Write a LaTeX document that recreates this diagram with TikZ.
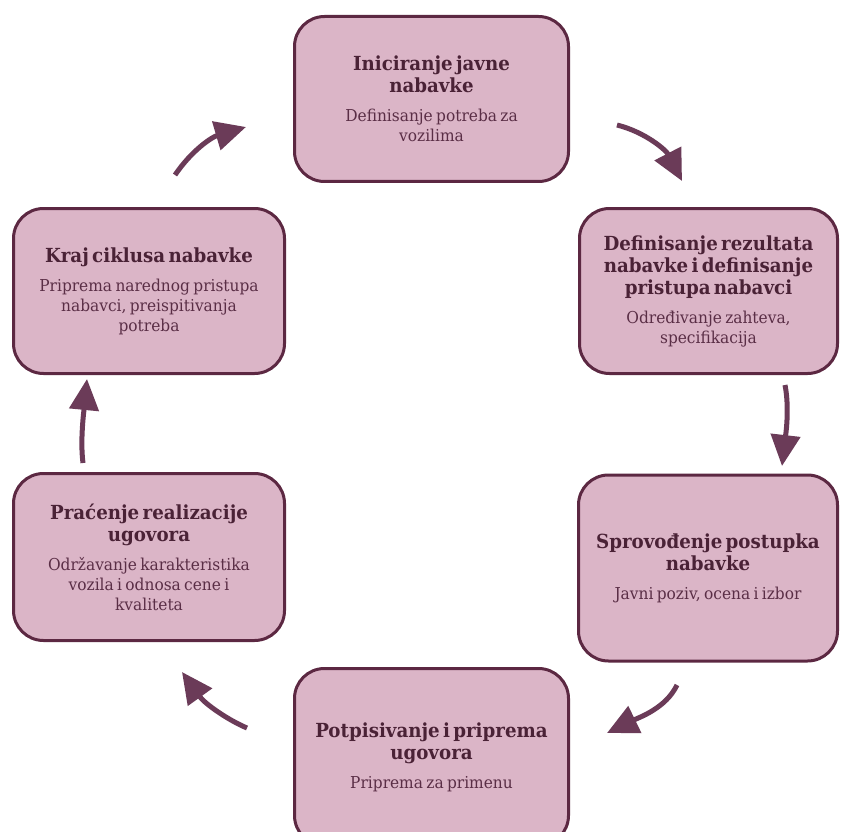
\documentclass[tikz,border=0pt]{standalone}
\usepackage{fontspec}
\setmainfont{DejaVu Serif}[FakeStretch=0.94]
\usetikzlibrary{arrows.meta}

\definecolor{boxfill}{HTML}{DBB5C7}
\definecolor{boxline}{HTML}{5C2842}
\definecolor{ink}{HTML}{4A2236}
\definecolor{subink}{HTML}{5A2E46}
\definecolor{arrowc}{HTML}{6B3B58}

\newcommand{\ttlfont}{\fontsize{19.4}{22}\selectfont\bfseries}
\newcommand{\subfont}{\fontsize{16.4}{20}\selectfont\mdseries\color{subink}}
\newcommand{\stagetext}[2]{{\ttlfont #1\par}\vspace{9pt}{\subfont #2\par}}

\tikzset{
  stage/.style={draw=boxline, line width=3pt, fill=boxfill, rounded corners=30pt,
    inner sep=0pt, text width=256pt, align=center, text=ink},
  cyc/.style={draw=arrowc, line width=5pt, -{Triangle[length=31pt,width=29pt]}}
}

\begin{document}
\begin{tikzpicture}[x=1pt,y=-1pt]
  \clip (0,0) rectangle (841,832);
  \fill[white] (0,0) rectangle (841,832);

  % the six stages of the procurement cycle
  \node[stage, minimum width=274pt, minimum height=165pt] (init) at (431.5,99)
    {\stagetext{Iniciranje javne\\nabavke}{Definisanje potreba za\\vozilima}};
  \node[stage, minimum width=258pt, minimum height=165pt] (def) at (708.5,291)
    {\stagetext{Definisanje rezultata\\nabavke i definisanje\\pristupa nabavci}{Određivanje zahteva,\\specifikacija}};
  \node[stage, minimum width=259pt, minimum height=186pt] (spr) at (708,568)
    {\stagetext{Sprovođenje postupka\\nabavke}{Javni poziv, ocena i izbor}};
  \node[stage, minimum width=274pt, minimum height=177pt] (pot) at (431.5,757)
    {\stagetext{Potpisivanje i priprema\\ugovora}{Priprema za primenu}};
  \node[stage, minimum width=271pt, minimum height=167pt] (pra) at (149,557)
    {\stagetext{Praćenje realizacije\\ugovora}{Održavanje karakteristika\\vozila i odnosa cene i\\kvaliteta}};
  \node[stage, minimum width=271pt, minimum height=165pt] (kraj) at (149,291)
    {\stagetext{Kraj ciklusa nabavke}{Priprema narednog pristupa\\nabavci, preispitivanja\\potreba}};

  % arrow end points between the stages
  \coordinate (a1s) at (175,175);  \coordinate (a1e) at (246,127);
  \coordinate (a2s) at (617,125);  \coordinate (a2e) at (682,181);
  \coordinate (a3s) at (785,385);  \coordinate (a3e) at (782,466);
  \coordinate (a4s) at (677,685);  \coordinate (a4e) at (607,733);
  \coordinate (a5s) at (247,728);  \coordinate (a5e) at (182,672);
  \coordinate (a6s) at (83,463);   \coordinate (a6e) at (87,379);

  % curved arrows running clockwise
  \draw[cyc] (a1s) .. controls (192,150) and (212,137) .. (a1e);
  \draw[cyc] (a2s) .. controls (645,132) and (666,150) .. (a2e);
  \draw[cyc] (a3s) .. controls (790,410) and (785,440) .. (a3e);
  \draw[cyc] (a4s) .. controls (666,708) and (640,717) .. (a4e);
  \draw[cyc] (a5s) .. controls (228,720) and (205,704) .. (a5e);
  \draw[cyc] (a6s) .. controls (80,440) and (84,410) .. (a6e);
\end{tikzpicture}
\end{document}
